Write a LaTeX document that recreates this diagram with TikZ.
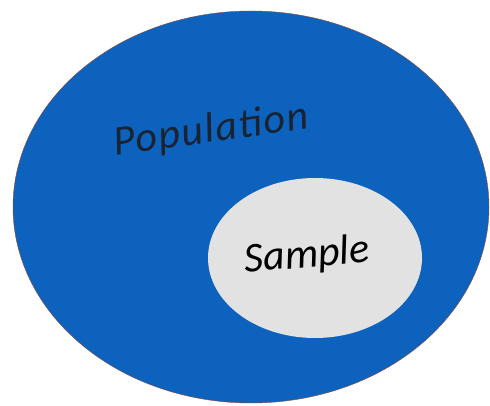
\documentclass[tikz,border=0pt]{standalone}
\usepackage{fontspec}
\setmainfont{Carlito}
\usetikzlibrary{shapes.geometric}
\definecolor{popblue}{RGB}{12,98,188}
\definecolor{samplegray}{RGB}{226,226,226}
\definecolor{rimred}{RGB}{140,75,60}
\definecolor{popdark}{RGB}{25,35,50}

\begin{document}
\begin{tikzpicture}[x=1pt,y=-1pt,
    set/.style={ellipse,inner sep=0pt},
    lbl/.style={font=\fontsize{42}{42}\selectfont\itshape}]
  \useasboundingbox (0,0) rectangle (490,406);
  \node[set,fill=popblue,draw=rimred,thin,minimum width=476pt,minimum height=392pt] (population) at (251,207) {};
  \node[set,fill=samplegray,minimum width=214pt,minimum height=160pt] (sample) at (315,258) {};
  \node[lbl,text=popdark,rotate=8,font=\fontsize{42}{42}\selectfont\itshape\addfontfeature{LetterSpace=4}] (poplabel) at (211,131) {Population};
  \node[lbl,rotate=5] (samplabel) at (307,256) {Sample};
\end{tikzpicture}
\end{document}
